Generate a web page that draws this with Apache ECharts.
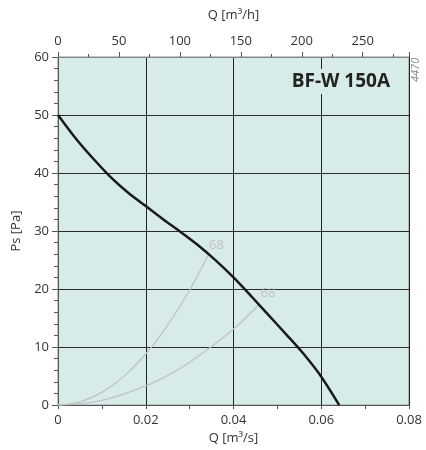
<!DOCTYPE html>
<html>
<head>
<meta charset="utf-8">
<script src="https://cdn.jsdelivr.net/npm/echarts@6/dist/echarts.min.js"></script>
<style>html,body{margin:0;padding:0;background:#fff}#c{width:426px;height:450px}</style>
</head>
<body>
<div id="c"></div>
<script>
// Fan curve: Q [m3/s] vs Ps [Pa]
const fanQ = [0, 0.004, 0.008, 0.012, 0.016, 0.020, 0.024, 0.028, 0.032, 0.036, 0.040, 0.044, 0.048, 0.052, 0.056, 0.060, 0.0641];
const fanP = [50, 46.0, 42.5, 39.3, 36.6, 34.3, 32.0, 29.8, 27.5, 24.9, 22.0, 18.8, 15.5, 12.2, 8.8, 4.9, 0];
// System curves (grey)
const sys1Q = [0, 0.005, 0.01, 0.015, 0.02, 0.025, 0.03, 0.0343];
const sys1P = [0, 0.55, 2.2, 4.95, 8.8, 13.8, 19.8, 26.0];
const sys2Q = [0, 0.01, 0.02, 0.025, 0.03, 0.035, 0.04, 0.0458];
const sys2P = [0, 0.82, 3.3, 5.1, 7.4, 10.1, 13.1, 17.3];
// Labels of system curves
const sysLabels = ['68', '68'];
const title = 'BF-W 150A';
const code = '4470';

const zip = (a, b) => a.map((v, i) => [v, b[i]]);
const font = "'Open Sans', 'Noto Sans', sans-serif";
const txt = '#333';

const chart = echarts.init(document.getElementById('c'), null, {renderer: 'canvas'});
chart.setOption({
  animation: false,
  textStyle: {fontFamily: font},
  grid: {left: 58, right: 17, top: 57, bottom: 43, show: true,
         backgroundColor: '#d7ebe8', borderColor: '#8a8a8a', borderWidth: 1},
  title: {text: title, right: 34, top: 69, backgroundColor: '#d7ebe8', padding: [3, 2],
          textStyle: {fontFamily: font, fontWeight: 'bold', fontSize: 19, color: '#222'}},
  graphic: [{type: 'text', x: 410, y: 82, rotation: Math.PI / 2,
             style: {text: code, font: 'italic 11px ' + font, fill: '#888', textVerticalAlign: 'top'}}],
  xAxis: [{
    type: 'value', position: 'bottom', min: 0, max: 0.08, interval: 0.02,
    name: 'Q [m³/s]', nameLocation: 'middle', nameGap: 24,
    nameTextStyle: {fontSize: 13, color: txt, fontFamily: font},
    axisLine: {lineStyle: {color: '#555', width: 1}},
    axisTick: {show: true, length: 4, lineStyle: {color: '#555'}},
    minorTick: {show: true, splitNumber: 2, length: 4, lineStyle: {color: '#555'}},
    axisLabel: {fontSize: 13, color: txt, margin: 9, fontFamily: font,
                formatter: v => v === 0 ? '0' : String(+v.toFixed(2))},
    splitLine: {show: true, lineStyle: {color: '#222', width: 1}}
  }, {
    type: 'value', position: 'top', min: 0, max: 288, interval: 50,
    name: 'Q [m³/h]', nameLocation: 'middle', nameGap: 35,
    nameTextStyle: {fontSize: 13, color: txt, fontFamily: font},
    axisLine: {show: true, lineStyle: {color: '#888', width: 1}},
    axisTick: {show: true, length: 5, lineStyle: {color: '#555'}},
    minorTick: {show: true, splitNumber: 2, length: 3, lineStyle: {color: '#555'}},
    axisLabel: {fontSize: 13, color: txt, margin: 9, showMaxLabel: false, fontFamily: font,
                formatter: v => (v % 50 === 0 ? String(v) : '')},
    splitLine: {show: false}
  }],
  yAxis: [{
    type: 'value', min: 0, max: 60, interval: 10,
    name: 'Ps [Pa]', nameLocation: 'middle', nameGap: 34,
    nameTextStyle: {fontSize: 13, color: txt, fontFamily: font},
    axisLine: {show: true, lineStyle: {color: '#555', width: 1}},
    axisTick: {show: true, length: 6, lineStyle: {color: '#555'}},
    minorTick: {show: true, splitNumber: 5, length: 4, lineStyle: {color: '#555'}},
    axisLabel: {fontSize: 13, color: txt, margin: 9, fontFamily: font},
    splitLine: {show: true, lineStyle: {color: '#2a2a2a', width: 1}}
  }],
  series: [
    {type: 'line', data: zip(sys1Q, sys1P), smooth: 0.4, symbol: 'none',
     lineStyle: {color: '#c2c2c2', width: 1.3}, z: 2},
    {type: 'line', data: zip(sys2Q, sys2P), smooth: 0.4, symbol: 'none',
     lineStyle: {color: '#c2c2c2', width: 1.3}, z: 2},
    {type: 'line', data: zip(fanQ, fanP), smooth: 0.3, symbol: 'none',
     lineStyle: {color: '#1a1a1a', width: 2.5}, z: 3},
    {type: 'scatter', symbolSize: 1, itemStyle: {color: 'rgba(0,0,0,0)'}, z: 4, silent: true,
     data: [
       {value: [sys1Q[sys1Q.length - 1], sys1P[sys1P.length - 1]], name: sysLabels[0],
        label: {offset: [8, 3]}},
       {value: [sys2Q[sys2Q.length - 1], sys2P[sys2P.length - 1]], name: sysLabels[1],
        label: {offset: [9, 1]}}
     ],
     label: {show: true, position: 'top', formatter: p => p.name, color: '#b8b8b8',
             fontSize: 13, fontFamily: font}}
  ]
});
</script>
</body>
</html>
